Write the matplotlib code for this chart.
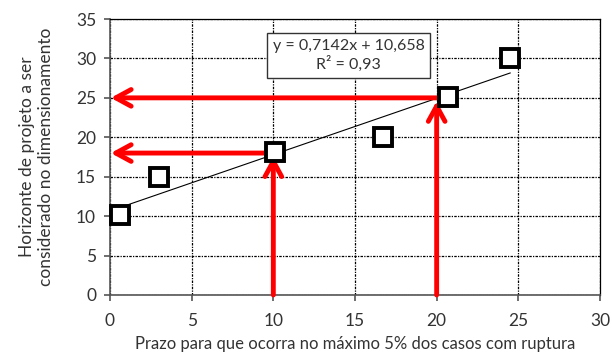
import numpy as np
import matplotlib.pyplot as plt
import matplotlib.patheffects as pe

# observed points
prazo = [0.6, 3.0, 10.1, 16.7, 20.7, 24.5]
horizonte = [10.1, 15.0, 18.1, 20.0, 25.1, 30.1]

# linear trend (from the fitted equation)
a, b = 0.7142, 10.658
r2 = 0.93

# reading arrows: (x on prazo axis, y on horizonte axis)
leituras = [(10, 18), (20, 25)]

xticks = [0, 5, 10, 15, 20, 25, 30]
yticks = [0, 5, 10, 15, 20, 25, 30, 35]

plt.rcParams['font.family'] = ['Lato', 'DejaVu Sans']
cor_txt = '#333333'

fig = plt.figure(figsize=(6.12, 3.54), dpi=100)
ax = fig.add_axes([0.1797, 0.1667, 0.8007, 0.7796])

ax.set_xlim(0, 30)
ax.set_ylim(0, 35)
ax.set_xticks(xticks)
ax.set_yticks(yticks)
ax.grid(True, color='black', linestyle=(0, (2, 1, 1, 1)), linewidth=0.9)
ax.set_axisbelow(True)

for s in ['top', 'right']:
    ax.spines[s].set_linestyle((0, (2, 1, 1, 1)))
    ax.spines[s].set_linewidth(0.9)
for s in ['left', 'bottom']:
    ax.spines[s].set_color('#555555')
    ax.spines[s].set_linewidth(1.2)

ax.tick_params(axis='both', colors='#555555', labelcolor=cor_txt, labelsize=12.5,
               length=4, width=1.2)
ax.tick_params(axis='x', pad=9)
ax.tick_params(axis='y', pad=6)

# trend line over data range
xs = np.array([min(prazo), max(prazo)])
ax.plot(xs, a * xs + b, color='black', linewidth=0.8, zorder=3)

# reading arrows
estilo = '->, head_length=1.1, head_width=0.6'
for xv, yv in leituras:
    ax.annotate('', xy=(0.05, yv), xytext=(xv, yv),
                arrowprops=dict(arrowstyle=estilo, color='red', lw=3.5,
                                shrinkA=0, shrinkB=0),
                zorder=4)
    ax.annotate('', xy=(xv, yv - 0.4), xytext=(xv, 0),
                arrowprops=dict(arrowstyle=estilo, color='red', lw=3.5,
                                shrinkA=0, shrinkB=0),
                zorder=4)

ax.plot(prazo, horizonte, linestyle='none', marker='s', markersize=13,
        markerfacecolor='white', markeredgecolor='black', markeredgewidth=2.8,
        zorder=5, clip_on=False,
        path_effects=[pe.SimplePatchShadow(offset=(1.5, -1.5), alpha=0.35), pe.Normal()])

ax.text(14.6, 30.4, 'y = 0,7142x + 10,658\nR² = 0,93',
        ha='center', va='center', fontsize=11.5, color=cor_txt, linespacing=1.25,
        bbox=dict(boxstyle='square,pad=0.35', facecolor='white', edgecolor='#333333',
                  linewidth=1.0), zorder=6)

ax.set_xlabel('Prazo para que ocorra no máximo 5% dos casos com ruptura',
              fontsize=12, color=cor_txt, labelpad=5)
ax.set_ylabel('Horizonte de projeto a ser\nconsiderado no dimensionamento',
              fontsize=12.5, color=cor_txt, labelpad=16)

fig.savefig('out.png', dpi=100)
